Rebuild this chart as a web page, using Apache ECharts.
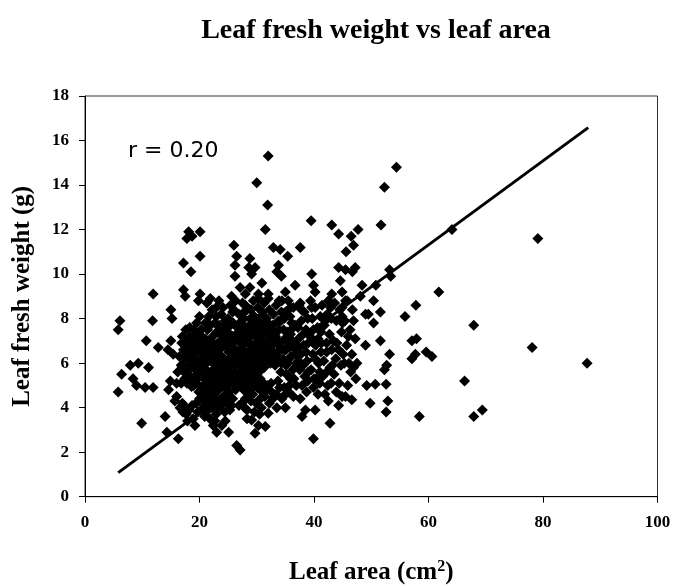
<!DOCTYPE html>
<html><head><meta charset="utf-8">
<script src="https://cdn.jsdelivr.net/npm/echarts@6/dist/echarts.min.js"></script>
<style>html,body{margin:0;padding:0;background:#fff}#c{width:673px;height:586px}</style>
</head><body><div id="c"></div>
<script>
const chartTitle = 'Leaf fresh weight vs leaf area';
const xName = 'Leaf area (cm{sup|2})';
const yName = 'Leaf fresh weight (g)';
const rLabel = 'r = 0.20';
const xRange = [0, 100, 20];
const yRange = [0, 18, 2];

// [leaf area, leaf fresh weight]
const leftGroup = [
 [5.8,4.7],[6.1,7.9],[5.8,7.5],[6.4,5.5],[7.9,5.9],[9.3,6.0],[8.4,5.3],[9.0,5.0],[10.5,4.9],[11.9,4.9],
 [11.1,5.8],[9.9,3.3],[10.7,7.0],[11.8,7.9],[11.9,9.1],[12.8,6.7],[14.5,6.6],[14.0,3.6],[14.3,2.9],[15.0,8.4],
 [15.2,8.0],[15.0,7.0],[15.4,6.4],[14.9,5.2],[14.6,4.8]
];
const coreA = [
 [16.9,6.9],[16.3,2.6],[16.5,6.3],[16.2,5.6],[16.8,5.9],[16.0,4.5],[16.6,4.0],[17.1,3.8],[16.0,5.1],[15.7,4.3],
 [17.6,7.5],[18.3,7.2],[17.8,6.8],[18.5,6.5],[17.5,6.2],[18.2,5.9],[17.9,5.5],[18.7,5.2],[17.4,5.3],[18.6,4.95],
 [17.3,4.1],[18.2,3.9],[18.9,3.5],[17.7,3.7],[19.2,3.2],
 [19.5,7.8],[20.3,7.5],[19.8,7.1],[20.6,6.8],[19.4,6.5],[20.1,6.2],[20.8,5.9],[19.6,5.7],[20.4,5.4],[19.3,5.1],
 [20.7,5.0],[19.9,4.7],[20.5,4.4],[19.4,4.2],[20.2,3.9],[20.9,3.6],
 [17.2,9.3],[17.5,9.0],[20.1,9.1],[19.8,8.8],[17.2,10.5],[18.5,10.1],[20.1,10.8],
 [18.1,11.9],[20.1,11.9],[17.8,11.6],[18.7,11.7]
];
const coreB = [
 [21.3,8.7],[22.2,8.4],[21.6,8.1],[22.7,7.8],[21.4,7.5],[22.3,7.2],[21.8,6.9],[22.9,6.6],[21.5,6.3],[22.4,6.0],
 [21.2,5.7],[22.1,5.5],[22.8,5.2],[21.6,4.9],[22.5,4.6],[21.3,4.3],[22.2,4.0],[22.9,3.7],[21.8,3.5],[22.4,3.2],[23.0,2.9],
 [23.4,8.8],[24.1,8.5],[23.7,7.6],[24.6,7.4],[23.9,7.0],[24.8,6.7],[23.5,6.4],[24.3,6.2],[23.2,5.8],[24.6,5.6],
 [23.8,5.3],[24.9,5.0],[23.4,4.8],[24.2,4.5],[24.8,4.2],[23.6,4.1],[24.5,3.4],[25.1,2.9],[23.9,3.2],
 [25.4,8.6],[26.3,8.8],[25.8,8.3],[26.6,7.6],[25.3,7.3],[26.1,7.0],[25.6,6.7],[26.7,6.5],[25.2,6.2],[26.2,5.9],
 [25.7,5.6],[26.8,5.3],[25.4,5.1],[26.3,4.8],[25.8,4.4],[26.9,4.1],[25.3,3.9],[26.5,2.3],[27.1,2.1],
 [27.5,8.7],[28.3,8.4],[27.8,8.0],[28.7,7.7],[27.3,7.4],[28.2,7.1],[27.6,6.8],[28.8,6.6],[27.4,6.3],[28.4,6.1],
 [27.9,5.8],[28.9,5.5],[27.2,5.4],[28.1,5.1],[27.7,4.8],[28.6,4.5],[27.4,4.2],[28.3,3.9],[28.3,3.5],[29.1,3.45],
 [22.9,8.5],[25.6,9.0],[27.1,9.4],[28.0,9.1]
];
const coreC = [
 [29.4,8.8],[30.2,8.5],[29.6,8.1],[30.7,7.8],[29.3,7.5],[30.1,7.2],[29.8,6.9],[30.8,6.6],[29.5,6.3],[30.4,6.1],
 [29.2,5.8],[30.0,5.5],[29.6,5.1],[30.6,4.8],[29.3,4.6],[30.2,4.3],[30.8,4.0],[29.6,3.8],[30.3,3.2],[29.7,2.85],[31.5,3.15],
 [31.3,8.7],[32.2,8.4],[31.7,8.0],[32.8,7.7],[31.4,7.4],[32.3,7.1],[31.8,6.8],[32.9,6.5],[31.5,6.2],[32.4,6.0],
 [31.9,5.0],[32.6,4.7],[31.4,4.5],[32.2,4.2],[32.0,3.75],[33.5,4.0],
 [33.4,8.6],[34.3,8.3],[33.8,7.9],[34.7,7.5],[33.3,7.2],[34.1,6.9],[33.6,6.5],[34.6,6.2],[33.2,5.9],[34.2,5.6],
 [33.7,5.2],[34.8,4.9],[33.4,4.6],[34.4,4.4],[35.0,4.0],
 [35.5,8.8],[36.4,8.5],[35.8,8.1],[36.7,7.7],[35.3,7.4],[36.2,7.0],[35.7,6.7],[36.8,6.4],[35.4,6.0],[36.3,5.7],
 [35.9,5.3],[36.9,5.0],[35.6,4.7],[36.4,4.5]
];
const coreD = [
 [37.4,8.6],[38.3,8.3],[37.8,7.9],[38.6,7.5],[37.3,7.1],[38.2,6.8],[37.7,6.4],[38.8,6.1],[37.5,5.7],[38.4,5.4],
 [37.9,5.0],[38.7,4.7],[37.6,4.4],[38.5,3.9],[37.9,3.6],
 [39.4,8.8],[40.2,8.5],[39.7,8.0],[40.6,7.6],[39.3,7.2],[40.3,6.8],[39.8,6.4],[40.8,6.0],[39.5,5.7],[40.4,5.3],
 [39.9,4.9],[40.7,4.6],[40.2,3.9],[39.9,2.6],
 [41.4,8.6],[42.3,8.2],[41.8,7.7],[42.7,7.3],[41.3,6.9],[42.2,6.5],[41.7,6.1],[42.8,5.8],[41.5,5.4],[42.4,5.0],
 [41.9,4.6],[42.8,3.3],[42.5,4.3],
 [43.6,8.7],[44.5,8.4],[43.9,7.9],[44.8,7.4],[43.4,7.0],[44.3,6.6],[43.8,6.2],[44.7,5.9],[43.5,5.5],[44.4,5.1],
 [43.9,4.7],[44.3,4.1],[44.9,4.5],
 [45.8,8.8],[46.7,8.4],[45.4,7.9],[46.3,7.5],[47.2,7.1],[45.7,6.8],[46.6,6.4],[45.3,6.0],[46.4,5.6],[47.3,5.3],
 [45.9,5.0],[46.6,4.35],[45.5,4.5],[47.5,6.0]
];
const fillLeft = [
 [17.0,7.2],[17.9,7.0],[18.8,6.9],[17.2,6.6],[18.0,6.4],[19.0,6.2],[17.0,5.9],[18.9,5.8],[17.3,5.6],[18.4,5.4],
 [19.1,5.4],[17.8,5.1],[19.6,5.3],[16.8,5.1],[17.0,4.2],[18.7,4.1],[17.9,3.4],[19.7,3.8],[20.0,4.4],
 [19.0,7.5],[20.0,7.3],[21.0,7.1],[19.2,6.9],[20.2,6.6],[21.1,6.5],[19.7,6.0],[20.6,5.7],[21.0,5.3],[19.9,5.0],
 [21.0,4.7],[20.9,4.1],[21.5,3.9],[20.0,8.1],[21.0,7.8],
 [21.9,8.9],[22.9,8.1],[21.9,7.7],[23.0,7.4],[22.0,7.0],[23.2,6.9],[22.1,6.6],[21.9,6.1],[22.9,6.0],[21.7,5.3],
 [22.6,5.0],[23.0,4.4],[21.9,4.6],[23.3,4.0],[22.7,3.4],
 [23.8,8.2],[24.5,7.9],[25.0,7.6],[23.6,7.3],[24.3,6.9],[25.1,6.5],[23.9,6.7],[24.0,5.6],[24.9,5.8],[23.5,5.1],
 [24.4,4.9],[25.0,4.6],[23.8,4.4],[24.4,3.8]
];
const fillMid = [
 [25.0,8.0],[26.0,8.4],[26.9,8.2],[25.9,7.8],[27.0,7.8],[25.8,7.2],[26.8,7.1],[25.1,6.9],[26.3,6.6],[27.2,6.6],
 [25.8,6.3],[26.9,6.0],[25.4,5.8],[26.4,5.5],[27.3,5.7],[25.1,5.4],[26.0,5.1],[27.0,5.0],[25.2,4.7],[25.6,4.1],
 [28.0,8.6],[29.0,8.4],[28.9,8.0],[28.0,7.6],[29.0,7.2],[27.8,7.2],[28.6,6.9],[29.1,6.6],[28.0,6.5],[28.9,6.2],
 [27.9,6.0],[28.6,5.8],[29.3,5.3],[28.5,5.3],[27.6,5.1],[28.9,4.9],[28.2,4.7],[29.0,4.3],[27.9,4.0],
 [30.3,8.9],[31.0,8.3],[29.9,7.9],[30.9,7.3],[30.0,7.6],[31.1,7.0],[30.3,6.8],[31.2,6.5],[30.0,6.4],[31.0,6.2],
 [29.9,5.9],[30.8,5.7],[30.6,5.3],[31.2,5.1],[30.1,4.9],[31.0,4.5],[29.9,4.2],[30.5,3.7],
 [32.0,8.9],[32.9,8.2],[32.0,7.8],[33.0,7.3],[31.9,7.3],[32.6,6.8],[31.6,6.6],[32.3,6.4],[33.2,6.2],[31.7,4.8],
 [32.8,4.4],[32.5,5.1],
 [33.9,8.8],[34.8,8.0],[33.9,7.5],[34.9,7.1],[33.8,6.8],[34.9,6.6],[33.9,6.2],[35.1,5.9],[34.0,4.9],[35.0,4.6],[35.2,5.5],
 [35.9,8.5],[36.1,7.8],[35.9,7.3],[36.7,6.9],[35.1,6.6],[36.0,6.3],[36.9,6.0],[35.7,5.0],[36.5,5.3]
];
const fillCore = [
 [18.3,7.6],[19.3,7.2],[20.5,7.0],[18.6,6.7],[19.7,6.6],[20.9,6.3],[18.5,6.1],[19.4,5.9],[20.3,5.9],[18.1,5.7],
 [19.0,5.0],[20.1,5.6],[21.5,5.0],[20.5,4.8],[21.2,4.5],[22.3,6.8],[21.3,6.7],[22.6,6.3],[21.0,6.0],[22.4,5.7],
 [23.0,5.5],[21.9,5.0],[22.8,4.8],[23.6,5.6],[24.1,5.9],[24.7,6.0],[23.3,6.1],[24.6,7.1],[23.4,7.7],[24.2,7.6],
 [25.5,7.0],[26.4,7.3],[27.1,6.9],[25.6,6.0],[26.5,6.2],[27.6,6.1],[25.9,5.4],[27.3,5.3],[26.6,5.1],[24.6,5.3],
 [27.5,5.9],[28.3,6.3],[29.4,6.0],[28.2,5.6],[29.6,5.6],[30.5,5.9],[31.3,5.8],[30.5,6.4],[29.7,6.7],[31.5,6.9],
 [30.6,7.0],[29.6,7.3],[28.5,7.4],[30.4,7.5],[31.3,7.7],[29.2,7.8],[27.2,7.6],[27.8,8.3],[30.7,8.1],[32.6,7.5],
 [33.6,7.0],[32.9,6.9],[34.4,6.7],[33.2,6.4],[34.3,6.0],[32.2,6.6],[31.0,4.9],[30.1,5.2],[29.2,4.9],[28.0,4.4],
 [24.0,4.2],[22.0,4.3],[21.0,3.7],[23.2,4.2],[31.9,7.6],[35.2,7.0],[34.2,7.9],[35.0,8.3],[36.0,7.5],[35.6,6.2],[36.4,6.7]
];
const fillRight = [
 [37.8,8.4],[38.9,8.0],[37.2,7.6],[38.1,7.3],[39.0,6.9],[37.3,6.7],[38.6,6.5],[37.3,6.1],[38.1,5.9],[39.0,5.6],
 [38.9,5.2],[39.9,7.5],[40.7,7.1],[39.9,6.9],[41.2,6.5],[40.2,6.2],[41.0,5.6],[40.0,5.3],[41.1,8.1],[41.2,7.4],
 [42.2,6.9],[42.0,7.9],[43.0,8.0],[43.1,6.6],[44.0,6.9],[43.2,5.9],[42.2,5.6],[45.0,7.8],[45.1,6.4],[46.0,7.2],
 [46.1,6.0],[44.9,8.1],[42.9,8.5],[41.0,5.1],[43.0,5.1],[46.9,5.8],[46.9,7.9]
];
const upperGroup = [
 [32.0,15.3],[30.0,14.1],[31.9,13.1],[31.5,12.0],[54.4,14.8],[52.3,13.9],[51.7,12.2],
 [39.5,12.4],[43.1,12.2],[44.3,11.8],[47.7,12.0],[46.5,11.7],[46.9,11.3],[45.6,11.0],
 [37.6,11.2],[32.9,11.2],[34.1,11.1],[35.4,10.8],[26.0,11.3],[26.5,10.8],[26.2,10.4],[26.2,9.9],
 [28.8,10.7],[29.7,10.3],[29.1,10.0],[28.6,10.3],[33.8,10.4],[33.5,10.1],[34.3,9.9],
 [44.3,10.3],[45.5,10.2],[46.7,10.1],[47.2,10.3],[44.6,9.7],[39.6,10.0],[39.9,9.5],[40.2,9.2],
 [28.8,9.4],[30.9,9.6],[30.3,9.1],[32.0,9.1],[36.7,9.5],[35.0,9.2],[34.4,8.8],
 [43.1,9.1],[42.5,8.8],[44.9,9.2],[45.5,8.8],[44.9,8.5],[37.6,8.7],[39.6,8.5],
 [48.1,9.0],[48.4,9.5],[50.8,9.5],[53.2,10.2],[53.4,9.9]
];
const rightGroup = [
 [64.1,12.0],[79.1,11.6],[50.4,8.8],[51.6,8.3],[49.0,8.2],[49.5,8.2],[50.4,7.8],[61.8,9.2],[57.8,8.6],[55.9,8.1],
 [67.9,7.7],[51.6,7.0],[49.0,6.8],[57.1,7.0],[57.9,7.1],[53.2,6.4],[52.7,5.9],[52.3,5.7],[57.1,6.2],[57.7,6.4],
 [59.6,6.5],[60.6,6.3],[78.1,6.7],[87.7,6.0],[66.3,5.2],[49.2,5.0],[50.7,5.05],[52.6,5.05],[49.8,4.2],[52.9,4.3],
 [52.6,3.8],[58.4,3.6],[67.9,3.6],[69.4,3.9]
];
// fitted line end points, as drawn in the figure
const trendLine = [[5.8,1.08],[87.9,16.58]];

const allPoints = [].concat(leftGroup, coreA, coreB, coreC, coreD, fillLeft, fillMid, fillCore, fillRight, upperGroup, rightGroup);

const serif = 'Liberation Serif';
const chart = echarts.init(document.getElementById('c'), null, {renderer:'canvas'});
chart.setOption({
  backgroundColor:'#fff',
  animation:false,
  title:{
    text: chartTitle, left: 371, top: 12, textAlign:'center',
    textStyle:{fontFamily:serif, fontWeight:'bold', fontSize:28, color:'#000'}
  },
  grid:{left:85, right:15.5, top:96, bottom:89.3, containLabel:false, outerBoundsMode:'none',
    show:true, borderColor:'#333', borderWidth:1, backgroundColor:'transparent'},
  xAxis:{
    type:'value', min:xRange[0], max:xRange[1], interval:xRange[2],
    name: xName, nameLocation:'middle', nameGap:62,
    nameTextStyle:{fontFamily:serif, fontWeight:'bold', fontSize:25, color:'#000', lineHeight:28,
      rich:{sup:{fontFamily:serif, fontWeight:'bold', fontSize:16, lineHeight:16, verticalAlign:'top', color:'#000'}}},
    axisLine:{show:true, onZero:false, lineStyle:{color:'#000', width:1}},
    axisTick:{show:true, inside:false, length:6, lineStyle:{color:'#000'}},
    splitLine:{show:false},
    axisLabel:{fontFamily:serif, fontWeight:'bold', fontSize:17, color:'#000', margin:17}
  },
  yAxis:{
    type:'value', min:yRange[0], max:yRange[1], interval:yRange[2],
    name: yName, nameLocation:'middle', nameGap:50,
    nameTextStyle:{fontFamily:serif, fontWeight:'bold', fontSize:25, color:'#000'},
    axisLine:{show:true, onZero:false, lineStyle:{color:'#000', width:1}},
    axisTick:{show:true, inside:false, length:6, lineStyle:{color:'#000'}},
    splitLine:{show:false},
    axisLabel:{fontFamily:serif, fontWeight:'bold', fontSize:17, color:'#000', margin:16}
  },
  graphic:[{
    type:'text', left:128, top:140,
    style:{text:rLabel, font:'22px "DejaVu Sans"', fill:'#000'}
  }],
  series:[
    {type:'scatter', data:allPoints, symbol:'diamond', symbolSize:11, itemStyle:{color:'#000', opacity:1}, z:2},
    {type:'line', data:trendLine, symbol:'none', lineStyle:{color:'#000', width:3}, z:3, silent:true}
  ]
});
</script></body></html>
